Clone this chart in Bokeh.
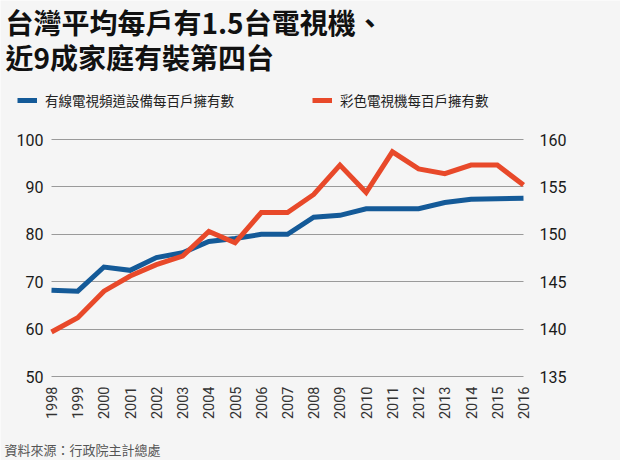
import math
from bokeh.plotting import figure
from bokeh.models import (Range1d, LinearAxis, FixedTicker, Legend, LegendItem, Label)
from bokeh.embed import file_html
from bokeh.resources import INLINE

# ---- data ----
years = [1998, 1999, 2000, 2001, 2002, 2003, 2004, 2005, 2006, 2007,
         2008, 2009, 2010, 2011, 2012, 2013, 2014, 2015, 2016]
cable = [68.2, 68.0, 73.1, 72.4, 75.1, 76.1, 78.5, 79.1, 80.0, 80.0,
         83.6, 84.0, 85.4, 85.4, 85.4, 86.7, 87.4, 87.5, 87.6]
color_tv = [139.7, 141.2, 144.0, 145.6, 146.8, 147.7, 150.3, 149.1, 152.3, 152.3,
            154.2, 157.3, 154.4, 158.7, 156.9, 156.4, 157.3, 157.3, 155.2]
left_ticks = [50, 60, 70, 80, 90, 100]
right_ticks = [135, 140, 145, 150, 155, 160]
title_lines = ["台灣平均每戶有1.5台電視機、", "近9成家庭有裝第四台"]
series_names = ["有線電視頻道設備每百戶擁有數", "彩色電視機每百戶擁有數"]
source_text = "資料來源：行政院主計總處"

# ---- layout (pixels) ----
W, H = 620, 460
PX_LEFT, PX_RIGHT = 51, 523      # where first / last year sit
PX_TOP, PX_BOTTOM = 139, 376     # where top / bottom ticks sit

BG = "#f5f5f5"
BLUE = "#145a98"
RED = "#e8492a"
CJK = "Noto Sans CJK TC"
NUM = "Roboto"


def stretch(lo, hi, px_lo, px_hi, total, flip=False):
    """range whose [lo, hi] maps onto pixels [px_lo, px_hi] of a canvas of size total"""
    per = (hi - lo) / (px_hi - px_lo)
    if flip:  # pixel grows downwards while value grows upwards
        return Range1d(lo - (total - px_hi) * per, hi + px_lo * per)
    return Range1d(lo - px_lo * per, hi + (total - px_hi) * per)


xr = stretch(years[0], years[-1], PX_LEFT, PX_RIGHT, W)
yr_left = stretch(left_ticks[0], left_ticks[-1], PX_TOP, PX_BOTTOM, H, flip=True)
yr_right = stretch(right_ticks[0], right_ticks[-1], PX_TOP, PX_BOTTOM, H, flip=True)

p = figure(width=W, height=H, output_backend="svg", toolbar_location=None,
           title=None, x_range=xr, y_range=yr_left,
           y_axis_location=None, x_axis_location=None,
           min_border_left=0, min_border_right=0,
           min_border_top=0, min_border_bottom=0)
p.background_fill_color = BG
p.border_fill_color = BG
p.outline_line_color = None
p.extra_y_ranges = {"right": yr_right}


def style_axis(ax, size, standoff):
    ax.axis_line_color = None
    ax.major_tick_line_color = None
    ax.minor_tick_line_color = None
    ax.major_tick_out = 0
    ax.major_tick_in = 0
    ax.major_label_text_font = NUM
    ax.major_label_text_font_size = size
    ax.major_label_text_color = "#1a1a1a"
    ax.major_label_standoff = standoff

yl = LinearAxis(ticker=FixedTicker(ticks=left_ticks), fixed_location=years[0])
style_axis(yl, "16px", 8)
p.add_layout(yl, "left")

yr = LinearAxis(y_range_name="right", ticker=FixedTicker(ticks=right_ticks),
                fixed_location=years[-1])
style_axis(yr, "16px", 16)
p.add_layout(yr, "right")

xb = LinearAxis(ticker=FixedTicker(ticks=years), fixed_location=left_ticks[0])
style_axis(xb, "14.5px", 10)
xb.major_label_orientation = math.pi / 2
xb.major_label_text_color = "#333333"
p.add_layout(xb, "below")

p.xgrid.visible = False
p.ygrid.ticker = FixedTicker(ticks=left_ticks)
p.ygrid.grid_line_color = "#9a9a9a"
p.ygrid.grid_line_width = 1
p.ygrid.cross_bounds = (years[0], years[-1])

r1 = p.line(years, cable, line_color=BLUE, line_width=5, line_join="miter")
r2 = p.line(years, color_tv, line_color=RED, line_width=5, line_join="miter",
            y_range_name="right")

lg = Legend(items=[LegendItem(label=series_names[0], renderers=[r1]),
                   LegendItem(label=series_names[1], renderers=[r2])],
            location=(17, H - 110), orientation="horizontal",
            padding=0, margin=0, spacing=78, border_line_color=None,
            background_fill_alpha=0, glyph_width=20, glyph_height=20,
            label_height=20, label_standoff=8,
            label_text_font=CJK, label_text_font_size="13.5px",
            label_text_color="#222222")
p.add_layout(lg)

for txt, ymid in [(title_lines[0], 21), (title_lines[1], 56)]:
    p.add_layout(Label(x=5, y=H - ymid, x_units="screen", y_units="screen",
                       text=txt, text_font=CJK, text_font_size="28px",
                       text_font_style="bold", text_color="#111111",
                       text_baseline="middle", text_align="left"))

p.add_layout(Label(x=4, y=H - 449, x_units="screen", y_units="screen",
                   text=source_text, text_font=CJK, text_font_size="13px",
                   text_color="#555555", text_baseline="middle", text_align="left"))

open("out.html", "w").write(file_html(p, INLINE))
